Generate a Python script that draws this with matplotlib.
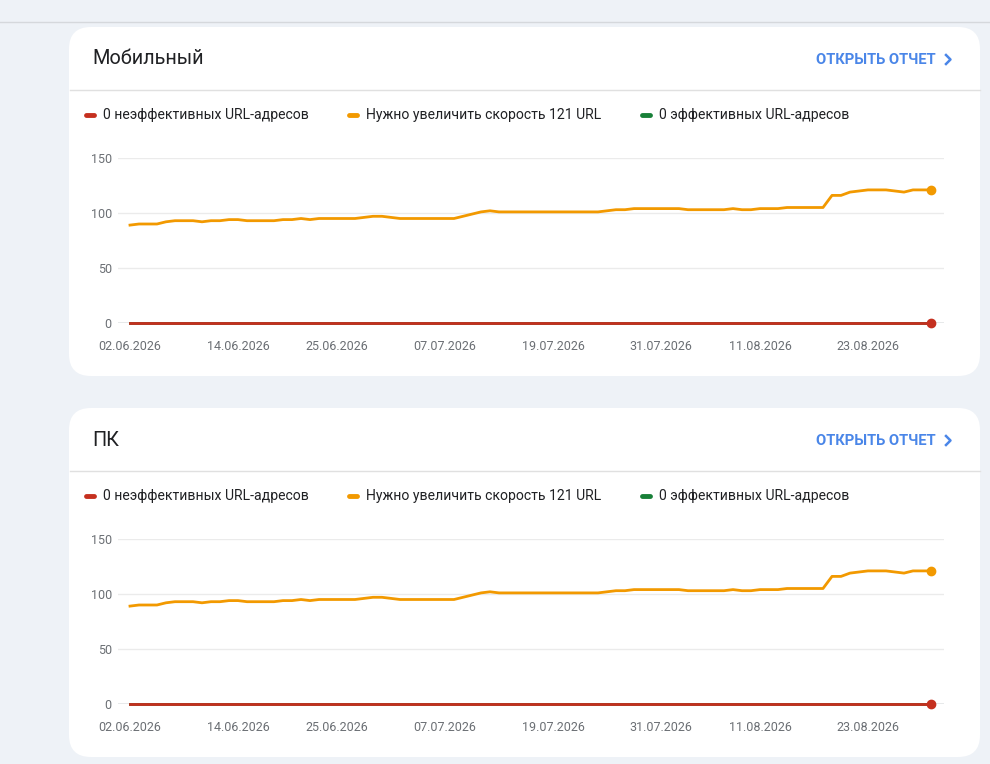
import matplotlib
matplotlib.use("Agg")
import matplotlib.pyplot as plt
from matplotlib.patches import FancyBboxPatch
import pandas as pd

plt.rcParams['font.family'] = ['Roboto', 'DejaVu Sans']

# data (same report for both devices)
dates = pd.date_range("2026-06-02", "2026-08-30", freq="D")
need_improve = [89, 90, 90, 90, 92, 93, 93, 93, 92, 93,
                93, 94, 94, 93, 93, 93, 93, 94, 94, 95,
                94, 95, 95, 95, 95, 95, 96, 97, 97, 96,
                95, 95, 95, 95, 95, 95, 95, 97, 99, 101,
                102, 101, 101, 101, 101, 101, 101, 101, 101, 101,
                101, 101, 101, 102, 103, 103, 104, 104, 104, 104,
                104, 104, 103, 103, 103, 103, 103, 104, 103, 103,
                104, 104, 104, 105, 105, 105, 105, 105, 116, 116,
                119, 120, 121, 121, 121, 120, 119, 121, 121, 121]
poor = [0] * len(dates)
good = [0] * len(dates)
tick_labels = ["02.06.2026", "14.06.2026", "25.06.2026", "07.07.2026",
               "19.07.2026", "31.07.2026", "11.08.2026", "23.08.2026"]
panel_titles = ["Мобильный", "ПК"]
legend_labels = ["0 неэффективных URL-адресов",
                 "Нужно увеличить скорость 121 URL",
                 "0 эффективных URL-адресов"]

RED, ORANGE, GREEN = '#c5301f', '#f29900', '#188038'
W, H = 990, 764

fig = plt.figure(figsize=(W / 100, H / 100), dpi=100)
fig.patch.set_facecolor('#eef2f7')

# pixel canvas for cards and headers
bg = fig.add_axes([0, 0, 1, 1])
bg.set_xlim(0, W)
bg.set_ylim(H, 0)
bg.axis('off')
bg.plot([0, W], [22, 22], color='#d5d8dc', lw=1)


def add_panel(top, title):
    bottom = top + 349
    card = FancyBboxPatch((69, top), 911, bottom - top,
                          boxstyle="round,pad=0,rounding_size=22",
                          fc='white', ec='none')
    bg.add_patch(card)
    bg.plot([70, 980], [top + 63, top + 63], color='#e0e0e0', lw=1)
    bg.text(92, top + 32, title, fontsize=14.3, color='#202124', va='center')
    bg.text(936, top + 33, "ОТКРЫТЬ ОТЧЕТ", fontsize=10.6, color='#4a86e8',
            fontweight='bold', va='center', ha='right')
    bg.plot([946, 950.5, 946], [top + 28, top + 32.5, top + 37], color='#4a86e8', lw=1.8)

    # legend
    for xm, lab, col in zip([85, 348, 641], legend_labels, [RED, ORANGE, GREEN]):
        bg.plot([xm + 1, xm + 9], [top + 88, top + 88], color=col, lw=3.5,
                solid_capstyle='round')
        bg.text(xm + 18, top + 88, lab, fontsize=10.05, color='#202124', va='center')

    # chart area: x 118..944 px, value 0 at top+296, 150 at top+131
    y0 = top + 296
    y150 = top + 131
    ax = fig.add_axes([118 / W, 1 - y0 / H, (944 - 118) / W, (y0 - y150) / H])
    ax.patch.set_alpha(0)
    x = list(range(len(dates)))
    ax.set_xlim((118 - 130) / 9, (944 - 130) / 9)
    ax.set_ylim(0, 150)
    ax.set_yticks([0, 50, 100, 150])
    ax.grid(axis='y', color='#ebebeb', lw=1)
    ax.set_axisbelow(True)
    ax.axhline(0, color='#9aa0a6', lw=1, zorder=1)
    ax.plot(x, good, color=GREEN, lw=2, clip_on=False, zorder=2)
    ax.plot(x, need_improve, color=ORANGE, lw=2, clip_on=False, zorder=3)
    ax.plot(x, poor, color=RED, lw=2, clip_on=False, zorder=4)
    ax.plot(x[-1], need_improve[-1], 'o', color=ORANGE, ms=6, clip_on=False, zorder=5)
    ax.plot(x[-1], poor[-1], 'o', color=RED, ms=6, clip_on=False, zorder=5)
    tick_pos = [list(dates.strftime("%d.%m.%Y")).index(t) for t in tick_labels]
    ax.set_xticks(tick_pos)
    ax.set_xticklabels(tick_labels)
    ax.tick_params(length=0, labelsize=9, labelcolor='#6b6f74')
    ax.tick_params(axis='y', pad=4.5)
    ax.tick_params(axis='x', pad=12.5)
    for s in ax.spines.values():
        s.set_visible(False)


add_panel(27, panel_titles[0])
add_panel(408, panel_titles[1])

fig.savefig("out.png", dpi=100, facecolor=fig.get_facecolor())
